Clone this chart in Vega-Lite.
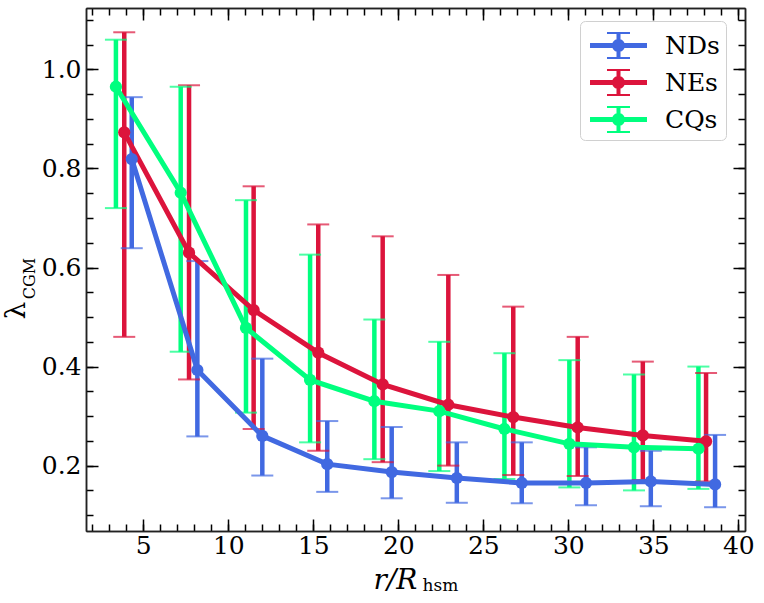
{
  "$schema": "https://vega.github.io/schema/vega-lite/v6.json",
  "width": 659,
  "height": 523,
  "autosize": {"type": "none"},
  "padding": {"left": 86, "top": 8, "right": 19, "bottom": 72},
  "config": {
    "view": {"stroke": null},
    "font": "DejaVu Serif",
    "axis": {
      "grid": false,
      "domainColor": "#222222",
      "domainWidth": 1.5,
      "tickColor": "black",
      "tickWidth": 1.5,
      "labelColor": "black",
      "titleColor": "black",
      "titleFontWeight": "normal"
    }
  },
  "data": {
    "values": [
      {"group": "NDs", "x": 4.32, "y": 0.819, "lo": 0.639, "hi": 0.944},
      {"group": "NDs", "x": 8.18, "y": 0.393, "lo": 0.259, "hi": 0.613},
      {"group": "NDs", "x": 12.0, "y": 0.26, "lo": 0.18, "hi": 0.416},
      {"group": "NDs", "x": 15.82, "y": 0.203, "lo": 0.147, "hi": 0.29},
      {"group": "NDs", "x": 19.61, "y": 0.187, "lo": 0.134, "hi": 0.278},
      {"group": "NDs", "x": 23.44, "y": 0.175, "lo": 0.125, "hi": 0.247},
      {"group": "NDs", "x": 27.26, "y": 0.165, "lo": 0.124, "hi": 0.247},
      {"group": "NDs", "x": 31.04, "y": 0.165, "lo": 0.12, "hi": 0.237},
      {"group": "NDs", "x": 34.85, "y": 0.168, "lo": 0.118, "hi": 0.23},
      {"group": "NDs", "x": 38.63, "y": 0.162, "lo": 0.116, "hi": 0.262},
      {"group": "NEs", "x": 3.88, "y": 0.873, "lo": 0.46, "hi": 1.075},
      {"group": "NEs", "x": 7.69, "y": 0.63, "lo": 0.374, "hi": 0.968},
      {"group": "NEs", "x": 11.49, "y": 0.514, "lo": 0.274, "hi": 0.764},
      {"group": "NEs", "x": 15.29, "y": 0.428, "lo": 0.23, "hi": 0.687},
      {"group": "NEs", "x": 19.08, "y": 0.364, "lo": 0.207, "hi": 0.663},
      {"group": "NEs", "x": 22.94, "y": 0.323, "lo": 0.2, "hi": 0.585},
      {"group": "NEs", "x": 26.76, "y": 0.298, "lo": 0.181, "hi": 0.521},
      {"group": "NEs", "x": 30.55, "y": 0.277, "lo": 0.179, "hi": 0.46},
      {"group": "NEs", "x": 34.38, "y": 0.261, "lo": 0.171, "hi": 0.41},
      {"group": "NEs", "x": 38.1, "y": 0.249, "lo": 0.168, "hi": 0.387},
      {"group": "CQs", "x": 3.39, "y": 0.965, "lo": 0.72, "hi": 1.06},
      {"group": "CQs", "x": 7.2, "y": 0.751, "lo": 0.43, "hi": 0.965},
      {"group": "CQs", "x": 11.04, "y": 0.478, "lo": 0.307, "hi": 0.736},
      {"group": "CQs", "x": 14.81, "y": 0.373, "lo": 0.247, "hi": 0.626},
      {"group": "CQs", "x": 18.59, "y": 0.33, "lo": 0.213, "hi": 0.495},
      {"group": "CQs", "x": 22.41, "y": 0.31, "lo": 0.189, "hi": 0.45},
      {"group": "CQs", "x": 26.24, "y": 0.274, "lo": 0.173, "hi": 0.427},
      {"group": "CQs", "x": 30.06, "y": 0.244, "lo": 0.156, "hi": 0.413},
      {"group": "CQs", "x": 33.86, "y": 0.237, "lo": 0.15, "hi": 0.384},
      {"group": "CQs", "x": 37.65, "y": 0.234, "lo": 0.153, "hi": 0.4}
    ]
  },
  "encoding": {
    "color": {
      "field": "group",
      "type": "nominal",
      "scale": {"domain": ["NDs", "NEs", "CQs"], "range": ["#4169E1", "#DC143C", "#00FF7F"]},
      "legend": {
        "title": null,
        "orient": "none",
        "legendX": 494,
        "legendY": 13,
        "padding": 6,
        "rowPadding": 4,
        "symbolSize": 1369,
        "symbolType": "M-0.784,-0.135H2.297V0.135H-0.784Z M0.649,-0.676H0.865V0.676H0.649Z M0.135,-0.73H1.378V-0.622H0.135Z M0.135,0.622H1.378V0.73H0.135Z M1.108,0A0.351,0.351 0 1,1 0.406,0A0.351,0.351 0 1,1 1.108,0Z",
        "symbolStrokeWidth": 0,
        "symbolOpacity": 1,
        "labelFont": "DejaVu Serif",
        "labelFontSize": 25,
        "labelColor": "black",
        "labelOffset": 42,
        "labelExpr": "datum.label + '\u00a0\u00a0'",
        "strokeColor": "#d0d0d0",
        "fillColor": "white",
        "cornerRadius": 5,
        "encode": {
          "symbols": {
            "update": {
              "fill": {"scale": "color", "field": "value"},
              "strokeWidth": {"value": 0}
            }
          }
        }
      }
    }
  },
  "layer": [
    {
      "mark": {"type": "rule", "strokeWidth": 4.5},
      "encoding": {
        "x": {
          "field": "x", "type": "quantitative",
          "scale": {"domain": [1.63, 40.39], "nice": false, "zero": false},
          "axis": {
            "orient": "bottom", "values": [5, 10, 15, 20, 25, 30, 35, 40], "format": "d",
            "tickSize": -12, "labelPadding": 14,
            "labelFont": "DejaVu Serif", "labelFontSize": 25,
            "encode": {"labels": {"update": {"fontSize": {"value": 25}, "font": {"value": "DejaVu Serif"}}}},
            "title": "r/R", "titleFont": "DejaVu Serif", "titleFontStyle": "italic", "titleFontSize": 28,
            "titleX": 309, "titleY": 57, "titleAlign": "center", "titleBaseline": "alphabetic"
          }
        },
        "y": {
          "field": "lo", "type": "quantitative",
          "scale": {"domain": [0.068, 1.124], "nice": false, "zero": false},
          "axis": {
            "orient": "left", "values": [0.2, 0.4, 0.6, 0.8, 1.0], "format": ".1f",
            "tickSize": -12, "labelPadding": 17,
            "labelFont": "DejaVu Serif", "labelFontSize": 25,
            "encode": {"labels": {"update": {"fontSize": {"value": 25}, "font": {"value": "DejaVu Serif"}}}},
            "title": "λ", "titleFont": "DejaVu Serif", "titleFontSize": 28, "titleAngle": 270,
            "titleX": -62, "titleY": 302, "titleAlign": "center", "titleBaseline": "alphabetic"
          }
        },
        "y2": {"field": "hi"}
      }
    },
    {
      "transform": [{"fold": ["lo", "hi"]}],
      "mark": {"type": "tick", "orient": "horizontal", "size": 22, "thickness": 2},
      "encoding": {
        "x": {
          "field": "x", "type": "quantitative",
          "scale": {"domain": [1.63, 40.39], "nice": false, "zero": false},
          "axis": {
            "orient": "bottom",
            "values": [2, 3, 4, 5, 6, 7, 8, 9, 10, 11, 12, 13, 14, 15, 16, 17, 18, 19, 20, 21, 22, 23, 24, 25, 26, 27, 28, 29, 30, 31, 32, 33, 34, 35, 36, 37, 38, 39, 40],
            "tickSize": -7, "labels": false,
            "title": "hsm", "titleFont": "DejaVu Serif", "titleFontSize": 17,
            "titleX": 354, "titleY": 59, "titleAlign": "center", "titleBaseline": "alphabetic"
          }
        },
        "y": {
          "field": "value", "type": "quantitative",
          "scale": {"domain": [0.068, 1.124], "nice": false, "zero": false},
          "axis": {
            "orient": "left",
            "values": [0.1, 0.15, 0.2, 0.25, 0.3, 0.35, 0.4, 0.45, 0.5, 0.55, 0.6, 0.65, 0.7, 0.75, 0.8, 0.85, 0.9, 0.95, 1.0, 1.05, 1.1],
            "tickSize": -7, "labels": false,
            "title": "CGM", "titleFont": "DejaVu Serif", "titleFontSize": 16, "titleAngle": 270,
            "titleX": -52, "titleY": 270, "titleAlign": "center", "titleBaseline": "alphabetic"
          }
        }
      }
    },
    {
      "mark": {"type": "line", "strokeWidth": 5},
      "encoding": {
        "x": {
          "field": "x", "type": "quantitative",
          "scale": {"domain": [1.63, 40.39], "nice": false, "zero": false},
          "axis": {"orient": "top", "values": [5, 10, 15, 20, 25, 30, 35, 40], "tickSize": -12, "labels": false, "title": null}
        },
        "y": {
          "field": "y", "type": "quantitative",
          "scale": {"domain": [0.068, 1.124], "nice": false, "zero": false},
          "axis": {"orient": "right", "values": [0.2, 0.4, 0.6, 0.8, 1.0], "tickSize": -12, "labels": false, "title": null}
        }
      }
    },
    {
      "mark": {"type": "point", "filled": true, "size": 150, "opacity": 1},
      "encoding": {
        "x": {
          "field": "x", "type": "quantitative",
          "scale": {"domain": [1.63, 40.39], "nice": false, "zero": false},
          "axis": {
            "orient": "top",
            "values": [2, 3, 4, 5, 6, 7, 8, 9, 10, 11, 12, 13, 14, 15, 16, 17, 18, 19, 20, 21, 22, 23, 24, 25, 26, 27, 28, 29, 30, 31, 32, 33, 34, 35, 36, 37, 38, 39, 40],
            "tickSize": -7, "labels": false, "title": null
          }
        },
        "y": {
          "field": "y", "type": "quantitative",
          "scale": {"domain": [0.068, 1.124], "nice": false, "zero": false},
          "axis": {
            "orient": "right",
            "values": [0.1, 0.15, 0.2, 0.25, 0.3, 0.35, 0.4, 0.45, 0.5, 0.55, 0.6, 0.65, 0.7, 0.75, 0.8, 0.85, 0.9, 0.95, 1.0, 1.05, 1.1],
            "tickSize": -7, "labels": false, "title": null
          }
        }
      }
    }
  ],
  "resolve": {"axis": {"x": "independent", "y": "independent"}}
}
